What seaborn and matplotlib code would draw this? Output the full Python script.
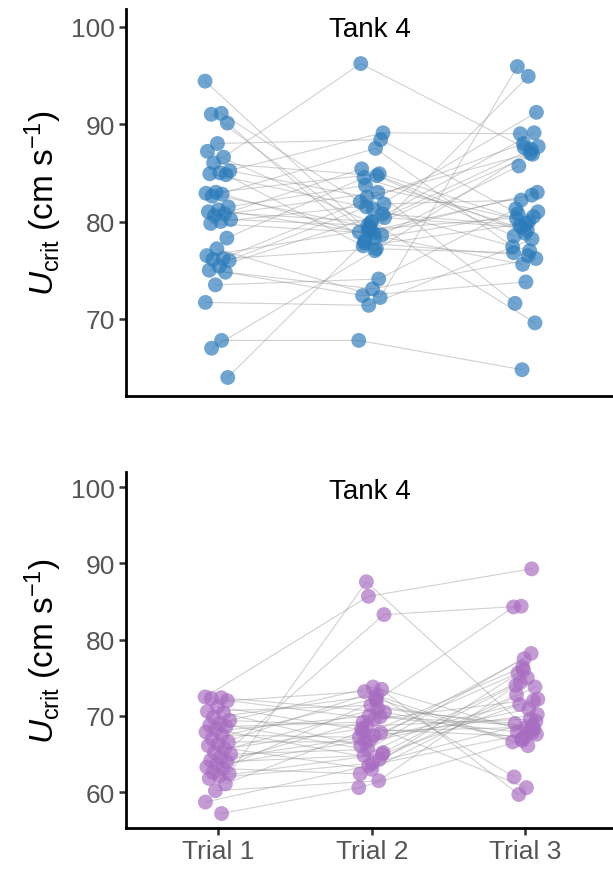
import numpy as np
import pandas as pd
import matplotlib
matplotlib.use("Agg")
import matplotlib.pyplot as plt
import seaborn as sns

trials = ["Trial 1", "Trial 2", "Trial 3"]
panel_title = "Tank 4"

# top panel (per individual, trials 1-3)
top_t1 = [94.4, 91.1, 91.0, 90.1, 88.0, 87.2, 86.6, 86.0, 85.2, 85.0, 84.9, 84.8, 83.0,
          82.9, 82.8, 82.6, 81.5, 81.2, 81.0, 80.8, 80.6, 80.2, 80.0, 79.8, 78.3, 77.2,
          76.5, 76.2, 76.1, 76.0, 75.4, 75.0, 74.8, 73.5, 71.7, 67.8, 67.0, 64.0]
top_t2 = [79.0, 80.4, 78.3, 77.8, 88.4, 79.9, 96.2, 84.7, 82.5, 89.1, 81.3, 77.5, 84.9,
          79.4, 78.9, 87.5, 83.7, 78.6, 80.0, 85.4, 83.0, 79.6, 81.8, 78.8, 84.5, 72.2,
          79.2, 82.0, 77.2, 81.5, 80.8, 73.1, 72.4, 74.1, 71.4, 67.8, 77.0, 78.0]
top_t3 = [82.7, 79.4, 81.0, 76.5, 80.8, 89.1, 87.6, 78.5, 87.0, 89.0, 91.2, 79.8, 80.3,
          86.9, 75.6, 77.4, 80.0, 85.7, 69.6, 78.8, 71.6, 87.4, 82.2, 83.0, 79.1, 95.9,
          80.5, 88.0, 76.8, 77.0, 79.6, 76.2, 73.8, 81.3, 78.2, 64.8, 87.7, 94.9]

# bottom panel
bot_t1 = [72.5, 72.4, 72.3, 72.0, 71.2, 70.6, 70.4, 69.8, 69.4, 69.0, 68.8, 68.6, 68.2,
          67.9, 67.5, 67.0, 66.6, 66.3, 66.1, 65.7, 65.2, 65.0, 64.6, 64.2, 64.0, 63.7,
          63.3, 63.1, 62.6, 62.4, 62.1, 61.8, 61.1, 60.2, 58.7, 57.2]
bot_t2 = [85.7, 70.5, 69.6, 73.2, 67.8, 71.4, 66.1, 72.7, 68.7, 65.2, 73.8, 69.2, 64.3,
          70.0, 67.2, 72.3, 66.6, 73.5, 63.0, 68.3, 71.0, 65.6, 83.3, 67.4, 64.8, 69.9,
          66.9, 62.4, 72.0, 87.6, 65.0, 63.8, 68.0, 61.5, 63.5, 60.6]
bot_t3 = [89.3, 67.0, 72.2, 66.1, 75.6, 68.3, 77.5, 62.0, 69.6, 74.4, 67.6, 60.6, 72.8,
          68.7, 76.4, 66.6, 70.9, 59.7, 73.8, 67.3, 69.0, 78.2, 84.4, 70.2, 75.0, 67.9,
          72.0, 76.0, 84.3, 68.0, 71.5, 69.3, 68.5, 74.0, 67.8, 66.8]

top_color = "#2b7bba"
bot_color = "#a86cc1"

plt.rcParams["mathtext.fontset"] = "custom"
plt.rcParams["mathtext.rm"] = "Liberation Sans"
plt.rcParams["mathtext.it"] = "Liberation Sans:italic"


def long_frame(cols):
    rows = []
    for k, col in enumerate(cols):
        for i, v in enumerate(col):
            # deterministic small horizontal jitter
            j = ((i * 0.6180339 + k * 0.37) % 1.0 - 0.5) * 0.17
            rows.append({"id": i, "trial": k, "x": k + j, "value": v})
    return pd.DataFrame(rows)


sns.set_theme(style="ticks")
plt.rcParams["font.family"] = ["Liberation Sans", "DejaVu Sans"]

fig = plt.figure(figsize=(6.13, 8.70), dpi=100)
ax1 = fig.add_axes([0.2055, 0.5437, 0.7945, 0.4448])
ax2 = fig.add_axes([0.2055, 0.0471, 0.7945, 0.4092])

for ax, cols, color, ylim, yticks in [
    (ax1, [top_t1, top_t2, top_t3], top_color, (62.1, 101.8), [70, 80, 90, 100]),
    (ax2, [bot_t1, bot_t2, bot_t3], bot_color, (55.3, 102.0), [60, 70, 80, 90, 100]),
]:
    df = long_frame(cols)
    sns.lineplot(data=df, x="x", y="value", units="id", estimator=None, sort=False,
                 color="#8c8c8c", alpha=0.4, linewidth=0.8, ax=ax, legend=False)
    sns.scatterplot(data=df, x="x", y="value", color=color, alpha=0.68, s=115,
                    edgecolor="none", linewidth=0, ax=ax, legend=False, zorder=3)
    ax.set_xlim(-0.6, 2.57)
    ax.set_ylim(*ylim)
    ax.set_yticks(yticks)
    ax.set_xticks([0, 1, 2])
    ax.set_xticklabels(trials)
    ax.set_xlabel("")
    ax.set_ylabel(r"$\mathit{U}_{\mathrm{crit}}$ (cm s$^{-1}$)", fontsize=24, color="black",
                  labelpad=5)
    for s in ["top", "right"]:
        ax.spines[s].set_visible(False)
    for s in ["left", "bottom"]:
        ax.spines[s].set_linewidth(2.0)
        ax.spines[s].set_color("black")
    ax.tick_params(axis="both", labelsize=19, labelcolor="#555555", color="#333333",
                   length=5, width=1.8, pad=3)
    ax.text(0.5, 0.982, panel_title, transform=ax.transAxes, ha="center", va="top",
            fontsize=20, color="black")

ax1.tick_params(axis="x", bottom=False, labelbottom=False)

fig.savefig("out.png", dpi=100)
